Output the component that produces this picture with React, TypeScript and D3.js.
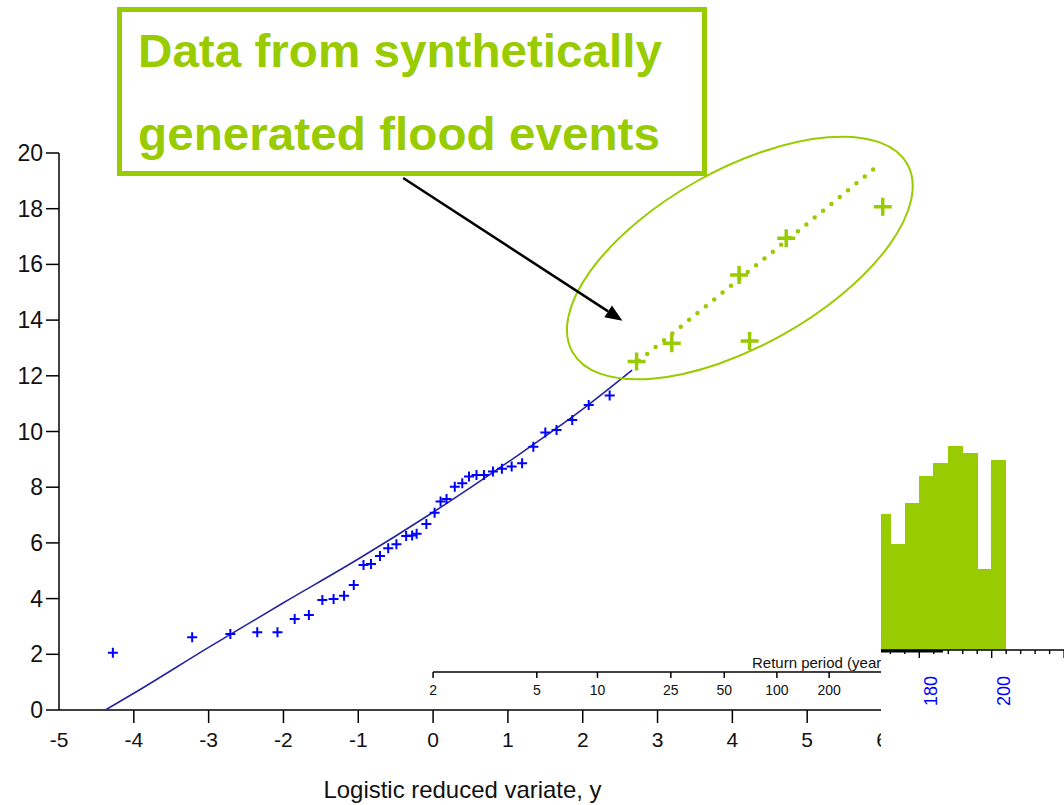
import React from "react";
import * as d3 from "d3";

// ---- data ----
const xTicks = [-5, -4, -3, -2, -1, 0, 1, 2, 3, 4, 5, 6];
const yTicks = [0, 2, 4, 6, 8, 10, 12, 14, 16, 18, 20];
const returnPeriods = [2, 5, 10, 25, 50, 100, 200];

// observed annual maxima (blue crosses): reduced variate, flow
const observedX = [-4.28, -3.22, -2.71, -2.35, -2.08, -1.85, -1.66, -1.48, -1.33, -1.19, -1.06, -0.93, -0.83, -0.71, -0.6, -0.49, -0.36, -0.28, -0.22, -0.09, 0.02, 0.1, 0.18, 0.29, 0.39, 0.48, 0.58, 0.68, 0.8, 0.92, 1.05, 1.19, 1.34, 1.5, 1.65, 1.86, 2.08, 2.36];
const observedY = [2.06, 2.61, 2.73, 2.79, 2.79, 3.27, 3.41, 3.95, 3.99, 4.1, 4.49, 5.21, 5.24, 5.53, 5.81, 5.95, 6.25, 6.27, 6.33, 6.68, 7.08, 7.49, 7.58, 8.02, 8.14, 8.38, 8.44, 8.44, 8.56, 8.66, 8.74, 8.86, 9.45, 9.96, 10.05, 10.41, 10.95, 11.29];

// synthetically generated flood events (green crosses)
const syntheticX = [2.72, 3.19, 4.23, 4.09, 4.72, 6.01];
const syntheticY = [12.51, 13.17, 13.25, 15.62, 16.94, 18.07];

// fitted growth curve
const fitX = [-4.38, -4.0, -3.0, -2.0, -1.0, 0.0, 1.0, 2.0, 2.66];
const fitY = [0.0, 0.6, 2.25, 3.85, 5.42, 7.1, 8.9, 10.8, 12.2];

// extrapolated curve (green dotted)
const extX = [2.75, 3.6, 4.4, 5.2, 5.95];
const extY = [12.54, 14.4, 16.15, 17.9, 19.56];

// histogram fragment at the right
const histEdges = [168, 172, 176, 180, 184, 188, 192, 196, 200];
const histCounts = [13.3, 10.4, 14.4, 17.1, 18.3, 20.0, 19.3, 7.9, 18.6];
const histTicks = [172, 176, 180, 184, 188, 192, 196, 200, 204, 208, 212, 216, 220];
const histLabels = [180, 200];

const GREEN = "#99cc00";
const BLUE = "#0000ff";
const FONT = "'Liberation Sans', Arial, Helvetica, sans-serif";

export default function App() {
  const x = d3.scaleLinear().domain([-5, 6]).range([59, 882]);
  const y = d3.scaleLinear().domain([0, 20]).range([710, 153]);

  const hx = d3.scaleLinear().domain([180, 200]).range([919.3, 991.7]);
  const hy = d3.scaleLinear().domain([0, 20]).range([650, 446]);

  const fitLine = d3
    .line<number>()
    .x((_, i) => x(fitX[i]))
    .y((d) => y(d))
    .curve(d3.curveMonotoneX);
  const extLine = d3
    .line<number>()
    .x((_, i) => x(extX[i]))
    .y((d) => y(d))
    .curve(d3.curveMonotoneX);

  const plus = (cx: number, cy: number, s: number) =>
    `M${cx - s / 2},${cy}H${cx + s / 2}M${cx},${cy - s / 2}V${cy + s / 2}`;

  // annotation positions in data coordinates
  const ellC = [4.1, 16.23];
  const arrowStart = [-0.4, 19.1];
  const arrowEnd = [2.53, 13.98];
  const ax1 = x(arrowStart[0]);
  const ay1 = y(arrowStart[1]);
  const ax2 = x(arrowEnd[0]);
  const ay2 = y(arrowEnd[1]);
  const ang = Math.atan2(ay2 - ay1, ax2 - ax1);
  const headL = 17;
  const headW = 7;
  const bx = ax2 - headL * Math.cos(ang);
  const by = ay2 - headL * Math.sin(ang);
  const head = `M${ax2},${ay2}L${bx + headW * Math.sin(ang)},${by - headW * Math.cos(ang)}L${bx - headW * Math.sin(ang)},${by + headW * Math.cos(ang)}Z`;

  return (
    <svg
      width={1064}
      height={805}
      style={{ position: "absolute", left: 0, top: 0, background: "#fff" }}
      fontFamily={FONT}
    >
      <rect width={1064} height={805} fill="#fff" />

      {/* Y axis */}
      <line x1={59} x2={59} y1={y(20)} y2={y(0)} stroke="#000" strokeWidth={1.5} />
      {yTicks.map((t) => (
        <g key={"yt" + t}>
          <line x1={46} x2={59} y1={y(t)} y2={y(t)} stroke="#000" strokeWidth={1.5} />
          <text x={43} y={y(t)} dy="0.35em" textAnchor="end" fontSize={23} fill="#111">
            {t}
          </text>
        </g>
      ))}

      {/* X axis */}
      <line x1={x(-5)} x2={x(6)} y1={y(0)} y2={y(0)} stroke="#000" strokeWidth={1.5} />
      {xTicks.map((t) => (
        <g key={"xt" + t}>
          {t !== -5 && (
            <line x1={x(t)} x2={x(t)} y1={y(0)} y2={y(0) + 13} stroke="#000" strokeWidth={1.5} />
          )}
          <text x={x(t)} y={747} textAnchor="middle" fontSize={21} fill="#111">
            {t}
          </text>
        </g>
      ))}
      <text x={462.5} y={798} textAnchor="middle" fontSize={24} fill="#111" textLength={278} lengthAdjust="spacingAndGlyphs">
        Logistic reduced variate, y
      </text>

      {/* Return period axis */}
      <line x1={x(0)} x2={x(6)} y1={672} y2={672} stroke="#000" strokeWidth={1.5} />
      {returnPeriods.map((T) => (
        <g key={"rp" + T}>
          <line x1={x(Math.log(T - 1))} x2={x(Math.log(T - 1))} y1={672} y2={678} stroke="#000" strokeWidth={1.5} />
          <text x={x(Math.log(T - 1))} y={695} textAnchor="middle" fontSize={14} fill="#111">
            {T}
          </text>
        </g>
      ))}
      <text x={752} y={668} fontSize={15} fill="#111">
        Return period (years)
      </text>

      {/* fitted line */}
      <path d={fitLine(fitY) || ""} fill="none" stroke="#2424a0" strokeWidth={1.6} />

      {/* observed points */}
      {observedY.map((v, i) => (
        <path key={"ob" + i} d={plus(x(observedX[i]), y(v), 10)} stroke={BLUE} strokeWidth={2} fill="none" />
      ))}

      {/* extrapolated dotted line */}
      <path
        d={extLine(extY) || ""}
        fill="none"
        stroke={GREEN}
        strokeWidth={4.5}
        strokeLinecap="round"
        strokeDasharray="0 10.8"
      />

      {/* synthetic points */}
      {syntheticY.map((v, i) => (
        <path key={"sy" + i} d={plus(x(syntheticX[i]), y(v), 18)} stroke={GREEN} strokeWidth={3.5} fill="none" />
      ))}

      {/* ellipse */}
      <ellipse
        cx={0}
        cy={0}
        rx={192}
        ry={88}
        fill="none"
        stroke={GREEN}
        strokeWidth={2}
        transform={`translate(${x(ellC[0])},${y(ellC[1])}) rotate(-29.3)`}
      />

      {/* arrow */}
      <line x1={ax1} y1={ay1} x2={bx} y2={by} stroke="#000" strokeWidth={2.5} />
      <path d={head} fill="#000" />

      {/* annotation box */}
      <rect x={119.5} y={9.5} width={585} height={164} fill="#fff" stroke={GREEN} strokeWidth={5} />
      <text x={138} y={67} fontSize={47} fontWeight="bold" fill={GREEN} textLength={524} lengthAdjust="spacingAndGlyphs">
        Data from synthetically
      </text>
      <text x={138} y={150} fontSize={47} fontWeight="bold" fill={GREEN} textLength={522} lengthAdjust="spacingAndGlyphs">
        generated flood events
      </text>

      {/* histogram fragment overlay */}
      <rect x={881} y={420} width={183} height={385} fill="#fff" />
      <defs>
        <clipPath id="histClip">
          <rect x={881} y={400} width={183} height={405} />
        </clipPath>
      </defs>
      <g clipPath="url(#histClip)">
        {histCounts.map((c, i) => (
          <rect
            key={"hb" + i}
            x={hx(histEdges[i]) - 0.3}
            y={hy(c)}
            width={hx(histEdges[i] + 4) - hx(histEdges[i]) + 0.6}
            height={hy(0) - hy(c)}
            fill={GREEN}
            shapeRendering="crispEdges"
          />
        ))}
        <line x1={881} x2={1064} y1={650} y2={650} stroke="#000" strokeWidth={1.4} />
        <line x1={881} x2={943} y1={651.3} y2={651.3} stroke="#000" strokeWidth={2.6} />
        {histTicks.map((t) => (
          <line
            key={"ht" + t}
            x1={hx(t)}
            x2={hx(t)}
            y1={650}
            y2={t % 20 === 0 ? 658 : 654}
            stroke="#000"
            strokeWidth={1.4}
          />
        ))}
        {histLabels.map((t) => (
          <text
            key={"hl" + t}
            transform={`translate(${hx(t) + 18},691) rotate(-90)`}
            textAnchor="middle"
            fontSize={18}
            fill={BLUE}
          >
            {t}
          </text>
        ))}
      </g>
    </svg>
  );
}
